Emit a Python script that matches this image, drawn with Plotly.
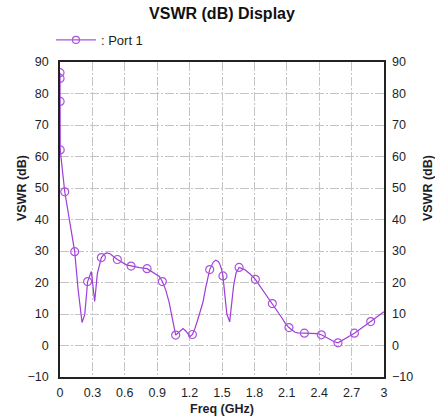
import plotly.graph_objects as go

# Port 1 VSWR trace (frequency in GHz, VSWR in dB)
freq_ghz = [0.0, 0.0005, 0.001, 0.002, 0.044, 0.105, 0.136, 0.167, 0.204, 0.229,
            0.256, 0.29, 0.321, 0.346, 0.383, 0.41, 0.43, 0.46, 0.50, 0.531,
            0.615, 0.658, 0.738, 0.806, 0.877, 0.92, 0.948, 0.98, 1.01, 1.034,
            1.071, 1.10, 1.139, 1.165, 1.204, 1.226, 1.25, 1.278, 1.324, 1.35,
            1.386, 1.42, 1.442, 1.465, 1.479, 1.495, 1.509, 1.522, 1.545, 1.571,
            1.59, 1.608, 1.63, 1.658, 1.71, 1.76, 1.809, 1.88, 1.966, 2.034,
            2.06, 2.09, 2.12, 2.173, 2.2, 2.263, 2.343, 2.38, 2.42, 2.46,
            2.497, 2.54, 2.574, 2.65, 2.726, 2.8, 2.877, 2.94, 3.0]
vswr_db = [86.6, 84.8, 77.5, 62.1, 48.8, 37.0, 29.8, 18.0, 7.3, 9.8,
           20.3, 23.5, 14.0, 22.8, 27.9, 29.0, 29.4, 29.2, 28.2, 27.3,
           25.6, 25.2, 24.7, 24.4, 23.0, 21.9, 20.3, 17.5, 13.8, 9.6,
           3.3, 4.2, 5.4, 4.6, 2.8, 3.5, 5.5, 8.5, 13.8, 18.5,
           24.1, 26.5, 27.1, 26.7, 25.9, 24.3, 22.1, 17.5, 10.0, 7.5,
           13.0, 19.1, 23.0, 24.8, 24.1, 22.7, 21.0, 17.5, 13.3, 10.1,
           8.5, 6.8, 5.7, 4.3, 4.0, 3.9, 3.9, 3.8, 3.4, 2.7,
           1.9, 1.2, 0.85, 2.3, 3.9, 5.7, 7.6, 9.0, 10.7]

# Sample points marked with circles
marker_freq = [0.0, 0.0005, 0.001, 0.002, 0.044, 0.136, 0.256, 0.383, 0.531, 0.658,
               0.806, 0.948, 1.071, 1.226, 1.386, 1.509, 1.658, 1.809, 1.966, 2.12,
               2.263, 2.42, 2.574, 2.726, 2.877]
marker_vswr = [86.6, 84.8, 77.5, 62.1, 48.8, 29.8, 20.3, 27.9, 27.3, 25.2,
               24.4, 20.3, 3.3, 3.5, 24.1, 22.1, 24.8, 21.0, 13.3, 5.7,
               3.9, 3.4, 0.85, 3.9, 7.6]

x_ticks = [0, 0.3, 0.6, 0.9, 1.2, 1.5, 1.8, 2.1, 2.4, 2.7, 3]
x_tick_text = ["0", "0.3", "0.6", "0.9", "1.2", "1.5", "1.8", "2.1", "2.4", "2.7", "3"]

LINE_COLOR = "#a03cd8"
MARK_COLOR = "#a855dc"
FONT = "Liberation Sans, Arial, sans-serif"
TXT = "#1e1e28"
Y_RANGE = [-10, 90]

fig = go.Figure()
fig.add_trace(go.Scatter(
    x=freq_ghz, y=vswr_db, mode="lines",
    line=dict(color=LINE_COLOR, width=1.2),
    showlegend=False, hoverinfo="skip"))
# markers sit on the right-hand axis, which shares the same fixed range
fig.add_trace(go.Scatter(
    x=marker_freq, y=marker_vswr, mode="markers", yaxis="y2",
    marker=dict(symbol="circle-open", size=8, color=MARK_COLOR, line=dict(width=1.2)),
    showlegend=False))
# legend entry: line with circle
fig.add_trace(go.Scatter(
    x=[None], y=[None], mode="lines+markers", name=": Port 1",
    line=dict(color=MARK_COLOR, width=1.2),
    marker=dict(symbol="circle-open", size=7, color=MARK_COLOR, line=dict(width=1.2)),
    showlegend=True))

grid_dash = "9px,2px,2px,2px"
tick_font = dict(family=FONT, size=12.5, color=TXT)
label_font = dict(family=FONT, size=12.5, color=TXT)

fig.update_layout(
    width=435, height=418,
    margin=dict(l=60, r=51, t=62, b=41),
    paper_bgcolor="white", plot_bgcolor="white",
    title=dict(text="<b>VSWR (dB) Display</b>", x=0.5, xref="paper", xanchor="center",
               y=1 - 13 / 418, yref="container", yanchor="middle",
               font=dict(family=FONT, size=16, color="#111")),
    legend=dict(x=-0.028, y=1.07, xanchor="left", yanchor="middle", orientation="h",
                itemwidth=40,
                font=dict(family=FONT, size=13, color=TXT), bgcolor="rgba(0,0,0,0)"),
    xaxis=dict(range=[0, 3], tickvals=x_ticks, ticktext=x_tick_text, automargin=False,
               showline=True, linecolor="#222", linewidth=1.5, mirror=True,
               gridcolor="#c4c4c4", gridwidth=1, griddash=grid_dash,
               zeroline=False, ticks="", ticklabelstandoff=3, tickfont=tick_font),
    yaxis=dict(range=Y_RANGE, dtick=10, tick0=0, automargin=False,
               showline=True, linecolor="#222", linewidth=1.5, mirror=True,
               gridcolor="#c4c4c4", gridwidth=1, griddash=grid_dash,
               zeroline=False, ticks="", ticklabelstandoff=7, tickfont=tick_font),
    yaxis2=dict(range=Y_RANGE, dtick=10, tick0=0, overlaying="y", side="right",
                automargin=False,
                showgrid=False, showline=False, zeroline=False, ticks="",
                ticklabelstandoff=7, tickfont=tick_font),
)

# axis titles
fig.add_annotation(text="<b>Freq (GHz)</b>", xref="paper", yref="paper",
                   x=0.5, y=-0.1016, xanchor="center", yanchor="middle",
                   showarrow=False, font=label_font)
fig.add_annotation(text="<b>VSWR (dB)</b>", xref="paper", yref="paper",
                   x=-0.117, y=0.6, xanchor="center", yanchor="middle",
                   textangle=-90, showarrow=False, font=label_font)
fig.add_annotation(text="<b>VSWR (dB)</b>", xref="paper", yref="paper",
                   x=1.136, y=0.6, xanchor="center", yanchor="middle",
                   textangle=-90, showarrow=False, font=label_font)

fig.write_html("out.html")
